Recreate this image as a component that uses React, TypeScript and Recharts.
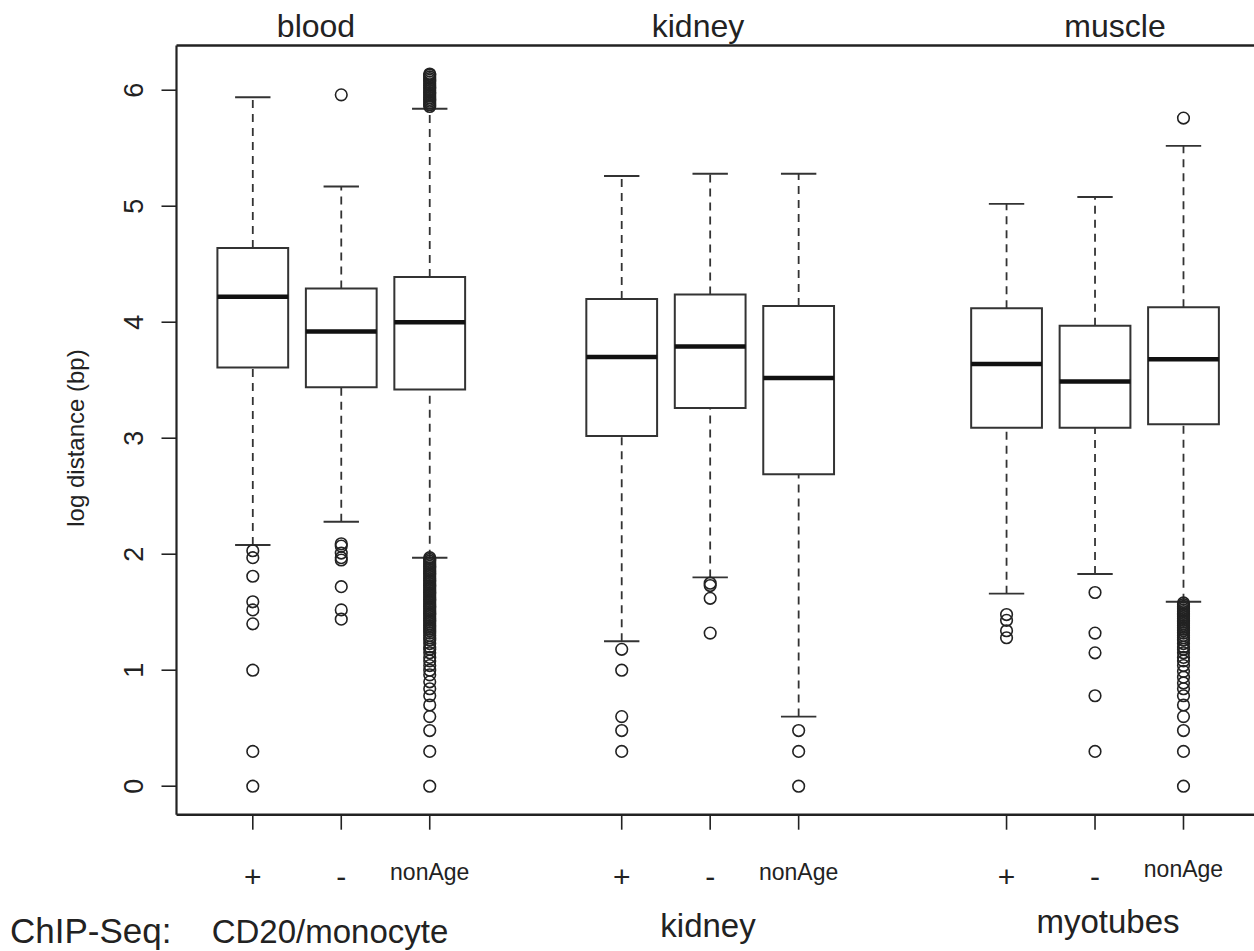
import {
  ComposedChart,
  XAxis,
  YAxis,
  Scatter,
  ReferenceArea,
  ReferenceLine,
} from "recharts";

// box positions along x (three tissue panels, three boxes each)
const CATEGORIES = ["+", "-", "nonAge", "+", "-", "nonAge", "+", "-", "nonAge"];
const POSITIONS = [1, 2, 3, 5.17, 6.17, 7.17, 9.52, 10.52, 11.52];

// five-number summaries, log10 distance (bp)
const WHISKER_LOW = [2.08, 2.28, 1.97, 1.25, 1.8, 0.6, 1.66, 1.83, 1.59];
const Q1 = [3.61, 3.44, 3.42, 3.02, 3.26, 2.69, 3.09, 3.09, 3.12];
const MEDIAN = [4.22, 3.92, 4.0, 3.7, 3.79, 3.52, 3.64, 3.49, 3.68];
const Q3 = [4.64, 4.29, 4.39, 4.2, 4.24, 4.14, 4.12, 3.97, 4.13];
const WHISKER_HIGH = [5.94, 5.17, 5.84, 5.26, 5.28, 5.28, 5.02, 5.08, 5.52];

const OUTLIERS: number[][] = [
  [2.03, 1.97, 1.81, 1.59, 1.52, 1.4, 1.0, 0.3, 0],
  [5.96, 2.09, 2.07, 2.01, 1.97, 1.95, 1.72, 1.52, 1.44],
  [
    5.86, 5.875, 5.89, 5.905, 5.92, 5.935, 5.95, 5.965, 5.98, 5.995, 6.01, 6.025, 6.04,
    6.055, 6.07, 6.085, 6.1, 6.115, 6.13, 6.14,
    1.97, 1.955, 1.94, 1.925, 1.91, 1.895, 1.88, 1.865, 1.85, 1.835, 1.82, 1.805, 1.79,
    1.775, 1.76, 1.745, 1.73, 1.715, 1.7, 1.685, 1.67, 1.655, 1.64, 1.625, 1.61, 1.595,
    1.58, 1.565, 1.55, 1.535, 1.52, 1.505, 1.49, 1.475, 1.46, 1.445, 1.43, 1.415, 1.4,
    1.385, 1.37, 1.355, 1.34, 1.32, 1.3, 1.28, 1.26, 1.23, 1.2, 1.18, 1.15, 1.11, 1.08,
    1.04, 1.0, 0.96, 0.9, 0.84, 0.78, 0.7, 0.6, 0.48, 0.3, 0,
  ],
  [1.18, 1.0, 0.6, 0.48, 0.3],
  [1.75, 1.73, 1.62, 1.32],
  [0.48, 0.3, 0],
  [1.48, 1.43, 1.34, 1.28],
  [1.67, 1.32, 1.15, 0.78, 0.3],
  [
    5.76, 1.58, 1.565, 1.55, 1.535, 1.52, 1.505, 1.49, 1.475, 1.46, 1.445, 1.43, 1.415,
    1.4, 1.385, 1.37, 1.355, 1.34, 1.32, 1.3, 1.28, 1.26, 1.23, 1.2, 1.18, 1.15, 1.11,
    1.08, 1.04, 0.99, 0.94, 0.89, 0.84, 0.78, 0.7, 0.6, 0.48, 0.3, 0,
  ],
];

const Y_TICKS = [0, 1, 2, 3, 4, 5, 6];
const Y_DOMAIN: [number, number] = [-0.2456, 6.3856];
const X_DOMAIN: [number, number] = [0.1376, 12.317];

const INK = "#222";
const FONT = "'Liberation Sans', Arial, Helvetica, sans-serif";
const BOX_HALF = 0.4;
const CAP_HALF = 0.2;

const outlierPoints = OUTLIERS.flatMap((vals, i) =>
  vals.map((v) => ({ x: POSITIONS[i], y: v }))
);

function XTick({ x, y, payload }: any) {
  const i = POSITIONS.indexOf(payload.value);
  const label = CATEGORIES[i] ?? "";
  const small = label === "nonAge";
  return (
    <text
      x={x}
      y={y + (small ? (i === 8 ? 45 : 48) : 55)}
      textAnchor="middle"
      fontSize={small ? 23 : 30}
      fontFamily={FONT}
      fill={INK}
    >
      {label}
    </text>
  );
}

function YTick({ x, y, payload }: any) {
  return (
    <text
      transform={`translate(${x - 16.5},${y}) rotate(-90)`}
      textAnchor="middle"
      fontSize={27}
      fontFamily={FONT}
      fill={INK}
    >
      {payload.value}
    </text>
  );
}

const Circle = (props: any) => (
  <circle cx={props.cx} cy={props.cy} r={5.8} fill="none" stroke={INK} strokeWidth={1.6} />
);

export default function App() {
  return (
    <div
      style={{
        position: "absolute",
        left: 0,
        top: 0,
        width: 1254,
        height: 951,
        background: "#fff",
        overflow: "hidden",
      }}
    >
      <ComposedChart
        width={1254}
        height={951}
        margin={{ top: 45.5, right: 0, bottom: 56.3, left: 0 }}
      >
        <XAxis
          type="number"
          dataKey="x"
          domain={X_DOMAIN}
          allowDataOverflow
          ticks={POSITIONS}
          interval={0}
          tick={<XTick />}
          tickSize={15}
          height={80}
          axisLine={{ stroke: INK, strokeWidth: 2.4 }}
          tickLine={{ stroke: INK, strokeWidth: 1.6 }}
        />
        <YAxis
          type="number"
          domain={Y_DOMAIN}
          allowDataOverflow
          ticks={Y_TICKS}
          interval={0}
          tick={<YTick />}
          tickSize={15}
          width={176.5}
          axisLine={{ stroke: INK, strokeWidth: 2.2 }}
          tickLine={{ stroke: INK, strokeWidth: 1.6 }}
        />
        {/* top frame line */}
        <ReferenceLine y={Y_DOMAIN[1]} stroke={INK} strokeWidth={2.6} ifOverflow="visible" />

        {POSITIONS.map((p, i) => (
          <ReferenceLine
            key={`wu-${i}`}
            segment={[
              { x: p, y: Q3[i] },
              { x: p, y: WHISKER_HIGH[i] },
            ]}
            stroke="#333"
            strokeWidth={1.8}
            strokeDasharray="8 6"
          />
        ))}
        {POSITIONS.map((p, i) => (
          <ReferenceLine
            key={`wl-${i}`}
            segment={[
              { x: p, y: WHISKER_LOW[i] },
              { x: p, y: Q1[i] },
            ]}
            stroke="#333"
            strokeWidth={1.8}
            strokeDasharray="8 6"
          />
        ))}
        {POSITIONS.map((p, i) => (
          <ReferenceLine
            key={`cu-${i}`}
            segment={[
              { x: p - CAP_HALF, y: WHISKER_HIGH[i] },
              { x: p + CAP_HALF, y: WHISKER_HIGH[i] },
            ]}
            stroke="#333"
            strokeWidth={1.9}
          />
        ))}
        {POSITIONS.map((p, i) => (
          <ReferenceLine
            key={`cl-${i}`}
            segment={[
              { x: p - CAP_HALF, y: WHISKER_LOW[i] },
              { x: p + CAP_HALF, y: WHISKER_LOW[i] },
            ]}
            stroke="#333"
            strokeWidth={1.9}
          />
        ))}
        {POSITIONS.map((p, i) => (
          <ReferenceArea
            key={`box-${i}`}
            x1={p - BOX_HALF}
            x2={p + BOX_HALF}
            y1={Q1[i]}
            y2={Q3[i]}
            fill="none"
            fillOpacity={0}
            stroke="#333"
            strokeWidth={2}
          />
        ))}
        {POSITIONS.map((p, i) => (
          <ReferenceLine
            key={`med-${i}`}
            segment={[
              { x: p - BOX_HALF, y: MEDIAN[i] },
              { x: p + BOX_HALF, y: MEDIAN[i] },
            ]}
            stroke="#111"
            strokeWidth={4.5}
          />
        ))}
        <Scatter
          data={outlierPoints}
          dataKey="y"
          shape={<Circle />}
          isAnimationActive={false}
        />
      </ComposedChart>

      {/* titles and panel labels */}
      <svg
        width={1254}
        height={951}
        style={{ position: "absolute", left: 0, top: 0, pointerEvents: "none" }}
        fontFamily={FONT}
        fill={INK}
      >
        <text x={316} y={37} fontSize={32} textAnchor="middle">blood</text>
        <text x={698} y={37} fontSize={32} textAnchor="middle">kidney</text>
        <text x={1115} y={37} fontSize={32} textAnchor="middle">muscle</text>
        <text transform="translate(84,438) rotate(-90)" fontSize={24} textAnchor="middle">
          log distance (bp)
        </text>
        <text x={10} y={943} fontSize={35}>ChIP-Seq:</text>
        <text x={330} y={943} fontSize={33} textAnchor="middle">CD20/monocyte</text>
        <text x={708} y={937} fontSize={33} textAnchor="middle">kidney</text>
        <text x={1108} y={933} fontSize={33} textAnchor="middle">myotubes</text>
      </svg>
    </div>
  );
}
